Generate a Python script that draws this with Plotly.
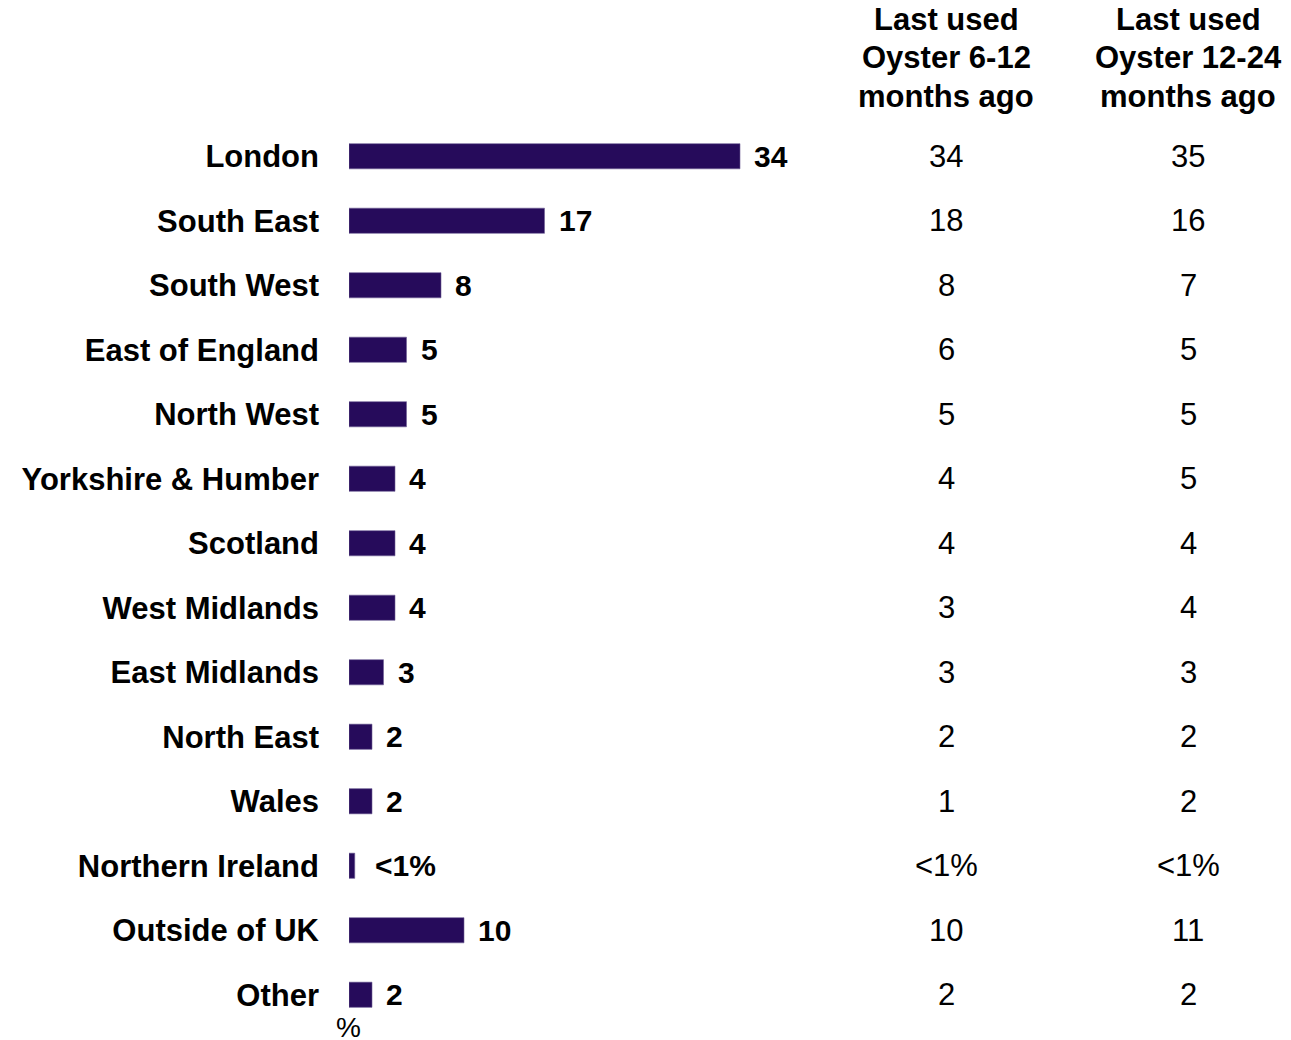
import plotly.graph_objects as go

regions = ["London", "South East", "South West", "East of England", "North West",
           "Yorkshire & Humber", "Scotland", "West Midlands", "East Midlands",
           "North East", "Wales", "Northern Ireland", "Outside of UK", "Other"]
values = [34, 17, 8, 5, 5, 4, 4, 4, 3, 2, 2, 0.5, 10, 2]
value_labels = ["34", "17", "8", "5", "5", "4", "4", "4", "3", "2", "2", "<1%", "10", "2"]
col_6_12 = ["34", "18", "8", "6", "5", "4", "4", "3", "3", "2", "1", "<1%", "10", "2"]
col_12_24 = ["35", "16", "7", "5", "5", "5", "4", "4", "3", "2", "2", "<1%", "11", "2"]
header_6_12 = ["Last used", "Oyster 6-12", "months ago"]
header_12_24 = ["Last used", "Oyster 12-24", "months ago"]

# page body adds an 8px margin, so the figure is laid out 8px up/left
W, H = 1283, 1032
L, R, T, B = 341, 0, 116, 13
plot_w = W - L - R
plot_h = H - T - B
px_per_unit = 11.5
xmax = plot_w / px_per_unit


def py(y_px):
    return (T + plot_h - y_px) / plot_h


def pxp(x_px):
    return (x_px - L) / plot_w


bar_color = "#260B5B"
font_fam = "Liberation Sans, Arial, sans-serif"

fig = go.Figure()
fig.add_trace(go.Bar(
    x=values, y=regions, orientation="h",
    marker=dict(color=bar_color, line=dict(color="#6f5f95", width=0.6)),
    width=0.39, hoverinfo="skip",
))

annotations = []
for r, v, t in zip(regions, values, value_labels):
    annotations.append(dict(x=v, y=r, xref="x", yref="y", text=t, showarrow=False,
                            xanchor="left", yanchor="middle",
                            xshift=18 if t.startswith("<") else 12,
                            font=dict(family=font_fam, size=30, color="black", weight="bold")))

col_x = [pxp(938), pxp(1180)]
for cx, col in zip(col_x, [col_6_12, col_12_24]):
    for r, t in zip(regions, col):
        annotations.append(dict(x=cx, y=r, xref="paper", yref="y", text=t, showarrow=False,
                                xanchor="center", yanchor="middle",
                                font=dict(family=font_fam, size=31, color="black")))
header_y = [12, 50, 89]
for cx, hdr in zip(col_x, [header_6_12, header_12_24]):
    for yp, line in zip(header_y, hdr):
        annotations.append(dict(x=cx, y=py(yp), xref="paper", yref="paper",
                                text=line, showarrow=False, xanchor="center", yanchor="middle",
                                font=dict(family=font_fam, size=31, color="black", weight="bold")))
annotations.append(dict(x=pxp(340), y=py(1019), xref="paper", yref="paper", text="%",
                        showarrow=False, xanchor="center", yanchor="middle",
                        font=dict(family=font_fam, size=28, color="black")))

fig.update_layout(
    width=W, height=H,
    margin=dict(l=L, r=R, t=T, b=B),
    paper_bgcolor="white", plot_bgcolor="white",
    showlegend=False,
    xaxis=dict(range=[0, xmax], visible=False, fixedrange=True),
    yaxis=dict(autorange="reversed", showgrid=False, zeroline=False, showline=False,
               ticks="", ticklabelstandoff=29, fixedrange=True,
               tickfont=dict(family=font_fam, size=31, color="black", weight="bold")),
    annotations=annotations,
)

fig.write_html("out.html")
